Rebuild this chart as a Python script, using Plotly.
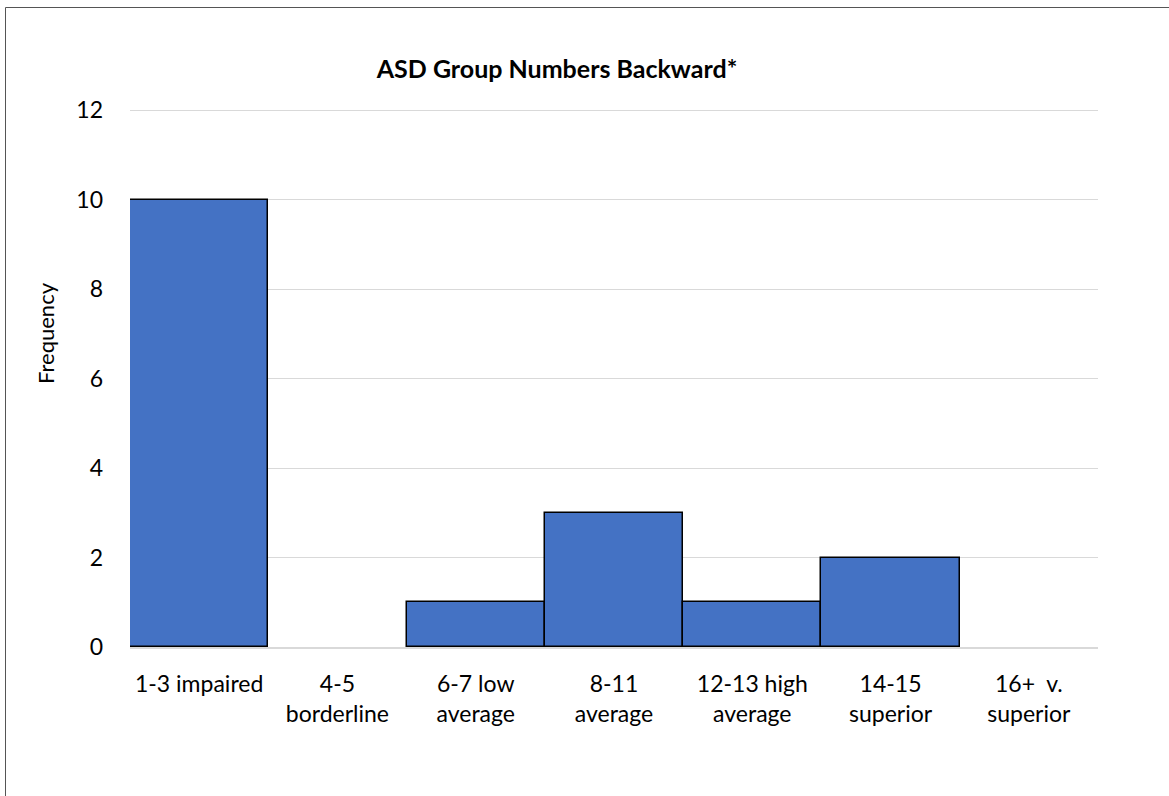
import plotly.graph_objects as go

categories = ["1-3 impaired", "4-5<br>borderline", "6-7 low<br>average", "8-11<br>average",
              "12-13 high<br>average", "14-15<br>superior", "16+  v.<br>superior"]
frequency = [10, 0, 1, 3, 1, 2, 0]
y_ticks = [0, 2, 4, 6, 8, 10, 12]

W, H = 1169, 796
L, R, T, B = 130, 1098, 109, 647

outline = ["black" if v > 0 else "rgba(0,0,0,0)" for v in frequency]

fig = go.Figure(go.Bar(
    x=categories, y=frequency,
    marker=dict(color="#4472C4", line=dict(color=outline, width=1.5)),
))

FONT = "Lato, Calibri, Carlito, sans-serif"


def px_x(p):
    return (p - L) / (R - L)


def px_y(p):
    return (B - p) / (B - T)


fig.update_layout(
    width=W, height=H,
    margin=dict(l=L, r=W - R, t=T, b=H - B, autoexpand=False),
    paper_bgcolor="white", plot_bgcolor="white",
    bargap=0,
    showlegend=False,
    font=dict(family=FONT, size=23, color="black"),
    title=dict(text="<b>ASD Group Numbers Backward*</b>", x=557 / W, xanchor="center",
               y=1 - 69 / H, yanchor="middle", font=dict(size=25, family=FONT, color="black")),
    xaxis=dict(showline=True, linecolor="#d9d9d9", linewidth=1.5, ticks="", showgrid=False,
               ticklabelstandoff=16, tickfont=dict(size=23)),
    yaxis=dict(range=[0, 12.03], tickvals=y_ticks, showgrid=True, gridcolor="#d9d9d9", gridwidth=1.3,
               zeroline=False, showline=False, ticks="", ticklabelstandoff=26,
               tickfont=dict(size=23)),
    annotations=[dict(text="Frequency", textangle=-90, xref="paper", yref="paper",
                      x=px_x(45), y=px_y(333), showarrow=False,
                      xanchor="center", yanchor="middle", font=dict(size=22, family=FONT))],
    shapes=[
        dict(type="line", xref="paper", yref="paper",
             x0=px_x(5.5), x1=px_x(1200), y0=px_y(7.5), y1=px_y(7.5),
             line=dict(color="#555555", width=1)),
        dict(type="line", xref="paper", yref="paper",
             x0=px_x(5.5), x1=px_x(5.5), y0=px_y(7.5), y1=px_y(820),
             line=dict(color="#555555", width=1)),
    ],
)

fig.write_html(
    "out.html",
    config={"displayModeBar": False},
    post_script="document.body.style.margin='0';document.body.style.overflow='hidden';"
                "document.documentElement.style.overflow='hidden';",
)
